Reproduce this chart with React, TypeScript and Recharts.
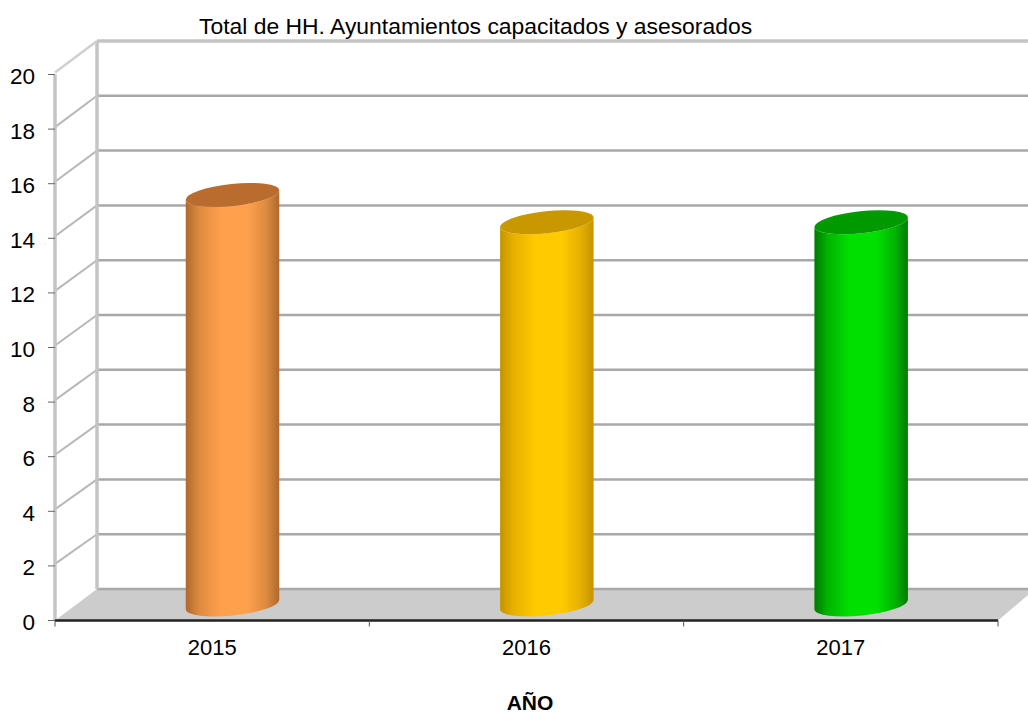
import { BarChart, Bar, XAxis, YAxis, CartesianGrid } from 'recharts';

const years = ['2015', '2016', '2017'];
const totals = [15, 14, 14];
const yTicks = [0, 2, 4, 6, 8, 10, 12, 14, 16, 18, 20];

const barColors = [
    { edge: '#b0682e', soft: '#dd8a40', mid: '#ffa04c', top: '#b96c2e' },
    { edge: '#c49400', soft: '#e6b000', mid: '#ffca00', top: '#c99800' },
    { edge: '#007a00', soft: '#00b400', mid: '#00e000', top: '#009a00' },
];

const data = years.map((year, i) => ({ year, total: totals[i] }));

const WIDTH = 1028;
const HEIGHT = 715;
const plot = { top: 74.5, right: 30, bottom: 94.5, left: 55 };
const plotWidth = WIDTH - plot.left - plot.right;
const depthX = 42;
const zeroY = HEIGHT - plot.bottom;
const floorBackY = 589;
const wallTopY = 41;

// the back wall is drawn a touch taller than the front scale
const backY = (y: number) => floorBackY - ((zeroY - y) * (floorBackY - wallTopY)) / (zeroY - plot.top);

function GridLine(props: any) {
    const { x1, y1 } = props;
    const isFloor = Math.abs(y1 - zeroY) < 1;
    const isTop = Math.abs(y1 - plot.top) < 1;
    const by = backY(y1);
    const bx = plot.left + depthX;
    return (
        <g>
            {isFloor && (
                <polygon
                    points={`${x1},${y1} ${bx},${by} ${WIDTH},${by} ${WIDTH},${by + 6} ${WIDTH - plot.right},${y1}`}
                    fill="#cccccc"
                />
            )}
            {isTop && (
                <g>
                    <line x1={x1} y1={y1} x2={x1} y2={zeroY} stroke="#c4c4c4" strokeWidth={3.5} />
                    <line x1={bx} y1={by} x2={bx} y2={floorBackY} stroke="#c4c4c4" strokeWidth={3.5} />
                </g>
            )}
            {!isFloor && <line x1={x1} y1={y1 - 2} x2={bx} y2={by} stroke={isTop ? '#d0d0d0' : '#b8b8b8'} strokeWidth={isTop ? 2.5 : 2} />}
            <line x1={bx} y1={by} x2={WIDTH} y2={by} stroke={isTop ? '#c4c4c4' : '#a8a8a8'} strokeWidth={isTop ? 3.5 : 2.5} />
        </g>
    );
}

function YearTick(props: any) {
    const { x, y, payload, index } = props;
    const band = plotWidth / years.length;
    return (
        <g>
            <line x1={x - band / 2} y1={y - 8} x2={x - band / 2} y2={y - 2} stroke="#555" />
            {index === years.length - 1 && <line x1={x + band / 2} y1={y - 8} x2={x + band / 2} y2={y - 2} stroke="#555" />}
            <text x={x} y={y + 26.5} textAnchor="middle" fontSize={22} fill="#000">{payload.value}</text>
        </g>
    );
}

function Cylinder(props: any) {
    const { x, y, width, height, index } = props;
    const rx = width / 2;
    const ry = 11;
    const rot = -6;
    const dx = depthX / 2 - 0.5;
    const dy = -16;
    const cx = x + rx + dx;
    const topY = y + dy;
    const botY = y + height + dy;
    const sx = rx * Math.cos((rot * Math.PI) / 180);
    const sy = rx * Math.sin((rot * Math.PI) / 180);
    const body = `M${cx - sx},${topY - sy} L${cx - sx},${botY - sy} A${rx},${ry} ${rot} 0 0 ${cx + sx},${botY + sy} L${cx + sx},${topY + sy} A${rx},${ry} ${rot} 0 1 ${cx - sx},${topY - sy} Z`;
    return (
        <g>
            <path d={body} fill={`url(#cyl${index})`} />
            <ellipse cx={cx} cy={topY} rx={rx} ry={ry} transform={`rotate(${rot} ${cx} ${topY})`} fill={barColors[index].top} />
        </g>
    );
}

export default function App() {
    return (
        <div style={{ position: 'absolute', left: 0, top: 0, width: WIDTH, height: HEIGHT, background: '#fff', fontFamily: '"Liberation Sans", Arial, sans-serif' }}>
            <BarChart width={WIDTH} height={HEIGHT} data={data} margin={{ top: plot.top, right: plot.right, bottom: 0, left: 0 }} barSize={94}>
                <defs>
                    {barColors.map((c, i) => (
                        <linearGradient key={i} id={`cyl${i}`} x1="0" y1="0" x2="1" y2="0">
                            <stop offset="0%" stopColor={c.edge} />
                            <stop offset="14%" stopColor={c.soft} />
                            <stop offset="38%" stopColor={c.mid} />
                            <stop offset="66%" stopColor={c.mid} />
                            <stop offset="86%" stopColor={c.soft} />
                            <stop offset="100%" stopColor={c.edge} />
                        </linearGradient>
                    ))}
                </defs>
                <CartesianGrid vertical={false} horizontal={(p: any) => <GridLine key={p.key} {...p} />} />
                <XAxis
                    dataKey="year"
                    axisLine={{ stroke: '#222', strokeWidth: 2.5 }}
                    tickLine={false}
                    interval={0}
                    tick={<YearTick />}
                    height={plot.bottom}
                />
                <YAxis
                    domain={[0, 20]}
                    ticks={yTicks}
                    interval={0}
                    width={plot.left}
                    axisLine={false}
                    tickSize={7}
                    tickMargin={13}
                    tickLine={{ stroke: '#666' }}
                    tick={{ fill: '#000', fontSize: 22.5, dy: 1.5 }}
                />
                <Bar dataKey="total" isAnimationActive={false} shape={<Cylinder />} />
                <text x={199} y={34} fontSize={22.9} fill="#000">Total de HH. Ayuntamientos capacitados y asesorados</text>
                <text x={530} y={710} fontSize={21} fontWeight="bold" textAnchor="middle" fill="#000">AÑO</text>
            </BarChart>
        </div>
    );
}
